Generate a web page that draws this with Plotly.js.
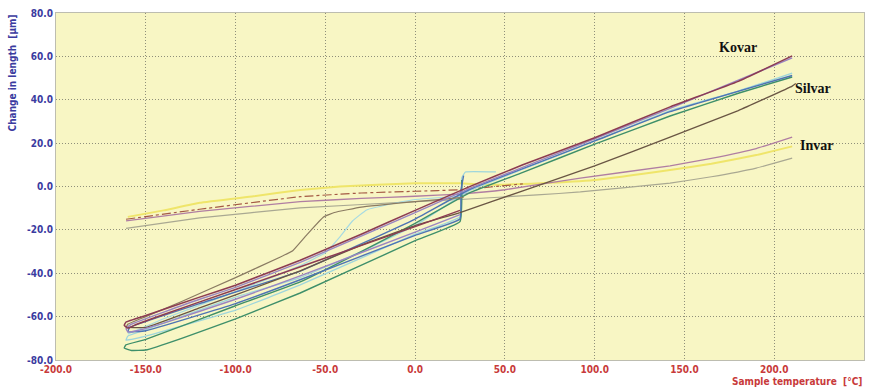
<!DOCTYPE html>
<html>
<head>
<meta charset="utf-8">
<script src="https://cdn.plot.ly/plotly-3.0.1.min.js"></script>
<style>html,body{margin:0;padding:0;background:#fff;}#chart{width:877px;height:388px;}</style>
</head>
<body>
<div id="chart"></div>
<script>
// Kovar sample A (cooling loop then heating)
const kovarAx = [25, 0, -50, -100, -140, -155, -160, -162, -161, -150, -120, -100, -64, -30, 0, 30, 60, 100, 142, 180, 210];
const kovarAy = [-11, -18.5, -33, -47.5, -59, -63.5, -65.3, -64, -62.5, -59.5, -51, -45.5, -34, -22, -11, -0.2, 10, 22.5, 36.7, 48.5, 60.2];
// Kovar sample B
const kovarBx = [25, 0, -64, -100, -140, -155, -160, -161, -158, -120, -100, -64, 0, 30, 100, 142, 210];
const kovarBy = [-13, -21, -41.2, -52, -63, -66.5, -67, -65.5, -63.5, -52, -46.5, -35, -12, -1, 22, 36, 59.3];
// Silvar: cooling run (kinked) and heating run
const silvarCoolX = [27, 0, -30, -45, -51, -60, -68, -75, -100, -130, -150, -160, -161];
const silvarCoolY = [-5, -7, -9.5, -12, -14.1, -22, -29.5, -32.5, -42, -53, -60, -63.5, -65];
const silvarHeatX = [-161, -150, -120, -100, -64, -30, 0, 25, 60, 100, 142, 180, 210, 212];
const silvarHeatY = [-65, -65, -56, -50, -38.9, -27, -18, -12, -2, 9.5, 22.8, 35, 46.3, 47.5];
// Cyan sample
const cyanX = [45, 28, 26, 25, 0, -64, -100, -150, -161, -160, -150, -100, -64, -30, 0, 30, 60, 100, 142, 180, 210];
const cyanY = [6.7, 6.7, 4, -14, -22, -45.4, -57, -69, -70.8, -69, -66, -51, -42, -30, -18, -2, 8, 21, 35, 44, 52.3];
// Cyan sample, second (kinked) run
const cyan2X = [25, 0, -10, -27, -35, -42, -50, -64, -100, -140, -160];
const cyan2Y = [-4.5, -6, -7.5, -10.8, -16, -23.3, -30.5, -36.5, -48.5, -61, -68];
// Green sample
const greenX = [26, 25, 0, -64, -100, -130, -150, -158, -162, -161, -150, -100, -64, -30, 0, 30, 60, 100, 142, 180, 210];
const greenY = [3, -16.2, -25, -49.1, -61, -70, -75.4, -75.6, -74.5, -73, -70.5, -55, -44, -30, -17, -3, 6.5, 19.5, 32.5, 43, 50.5];
// Blue sample
const blueX = [27, 25.5, 25, 0, -64, -100, -150, -160, -159, -120, -64, 0, 30, 100, 142, 210];
const blueY = [5, -2, -15, -22.5, -43, -54, -66.5, -67, -65, -54, -39, -15, -1.5, 21, 34.5, 51.2];
// Invar samples
const invarYellowX = [-160, -140, -120, -90, -64, -42, 0, 25, 42, 70, 100, 142, 165, 190, 210];
const invarYellowY = [-14, -11, -7.5, -4.5, -1.6, 0, 1.5, 1.5, 0.8, 1.5, 3, 7.6, 10.5, 14.5, 18.5];
const invarMauveX = [-161, -120, -64, -30, 0, 25, 50, 92, 142, 165, 190, 210];
const invarMauveY = [-15.8, -11.5, -7, -5.5, -4.5, -3.5, -1.5, 3.9, 9.5, 13, 17.5, 22.8];
const invarGrayX = [-161, -120, -64, 0, 25, 68, 92, 142, 165, 190, 210];
const invarGrayY = [-19.3, -14.5, -9.9, -7, -6, -3.9, -2.5, 1.6, 4.5, 8.5, 13.1];
const invarBrownX = [-161, -120, -64, -30, 0, 25, 60];
const invarBrownY = [-15.1, -10.5, -4.7, -3, -2.2, -1.5, 1.2];

const xTicks = [-200, -150, -100, -50, 0, 50, 100, 150, 200, 250];
const yTicks = [-80, -60, -40, -20, 0, 20, 40, 60, 80];
const labelNames = ['Kovar', 'Silvar', 'Invar'];
const labelX = [180, 221.5, 223.5];
const labelY = [64, 45, 19];

function tr(x, y, color, width, dash) {
  return {x: x, y: y, type: 'scatter', mode: 'lines',
    line: {color: color, width: width || 1.2, dash: dash || 'solid', shape: 'spline', smoothing: 0.3},
    hoverinfo: 'skip', showlegend: false};
}

const data = [
  tr(invarGrayX, invarGrayY, '#a9a892', 1.2),
  tr(invarYellowX, invarYellowY, '#efe56a', 2),
  tr(invarBrownX, invarBrownY, '#a45a44', 1.2, 'dashdot'),
  tr(invarMauveX, invarMauveY, '#b07ea2', 1.3),
  tr(cyan2X, cyan2Y, '#a6dae2', 1.2),
  tr(cyanX, cyanY, '#9ed6dc', 1.3),
  tr(greenX, greenY, '#3e8f6a', 1.4),
  tr(blueX, blueY, '#4e74b4', 1.4),
  tr(silvarCoolX, silvarCoolY, '#8a7b62', 1.2),
  tr(silvarHeatX, silvarHeatY, '#6a5644', 1.3),
  tr(kovarBx, kovarBy, '#9a84c2', 1.4),
  tr(kovarAx, kovarAy, '#8c3b52', 1.5)
];

const annotations = labelNames.map((t, i) => ({
  x: labelX[i], y: labelY[i], xref: 'x', yref: 'y', text: '<b>' + t + '</b>', showarrow: false,
  font: {family: 'Liberation Serif, Times New Roman, serif', size: 14, color: '#111'}
}));
annotations.push({
  xref: 'paper', yref: 'paper', x: -0.0545, y: 1.003, xanchor: 'center', yanchor: 'top',
  text: '<b>Change in length  [µm]</b>', textangle: -90, showarrow: false,
  font: {family: 'DejaVu Sans Condensed, DejaVu Sans, sans-serif', size: 10, color: '#3b3ba0'}
});
annotations.push({
  xref: 'paper', yref: 'paper', x: 1.0, y: -0.063, xanchor: 'right', yanchor: 'middle',
  text: '<b>Sample temperature  [°C]</b>', showarrow: false,
  font: {family: 'DejaVu Sans Condensed, DejaVu Sans, sans-serif', size: 10, color: '#c83a3a'}
});

const gridStyle = {showgrid: true, gridcolor: '#8f8f7a', griddash: '1px,2px', gridwidth: 1,
  zeroline: false, showline: true, linecolor: '#bdbdb0', mirror: true, ticks: '', automargin: false};

const layout = {
  width: 877, height: 388,
  margin: {l: 56, r: 13, t: 13, b: 28},
  paper_bgcolor: '#ffffff',
  plot_bgcolor: '#f8f6c4',
  xaxis: Object.assign({
    range: [-200, 250], tickvals: xTicks, ticktext: xTicks.map(v => v.toFixed(1)),
    tickfont: {family: 'DejaVu Sans Condensed, DejaVu Sans, sans-serif', size: 10, color: '#c83a3a', weight: 'bold'}
  }, gridStyle),
  yaxis: Object.assign({
    range: [-80, 80], tickvals: yTicks, ticktext: yTicks.map(v => v.toFixed(1)),
    tickfont: {family: 'DejaVu Sans Condensed, DejaVu Sans, sans-serif', size: 10, color: '#3b3ba0', weight: 'bold'}
  }, gridStyle),
  annotations: annotations
};

Plotly.newPlot('chart', data, layout, {staticPlot: true, displayModeBar: false});
</script>
</body>
</html>
